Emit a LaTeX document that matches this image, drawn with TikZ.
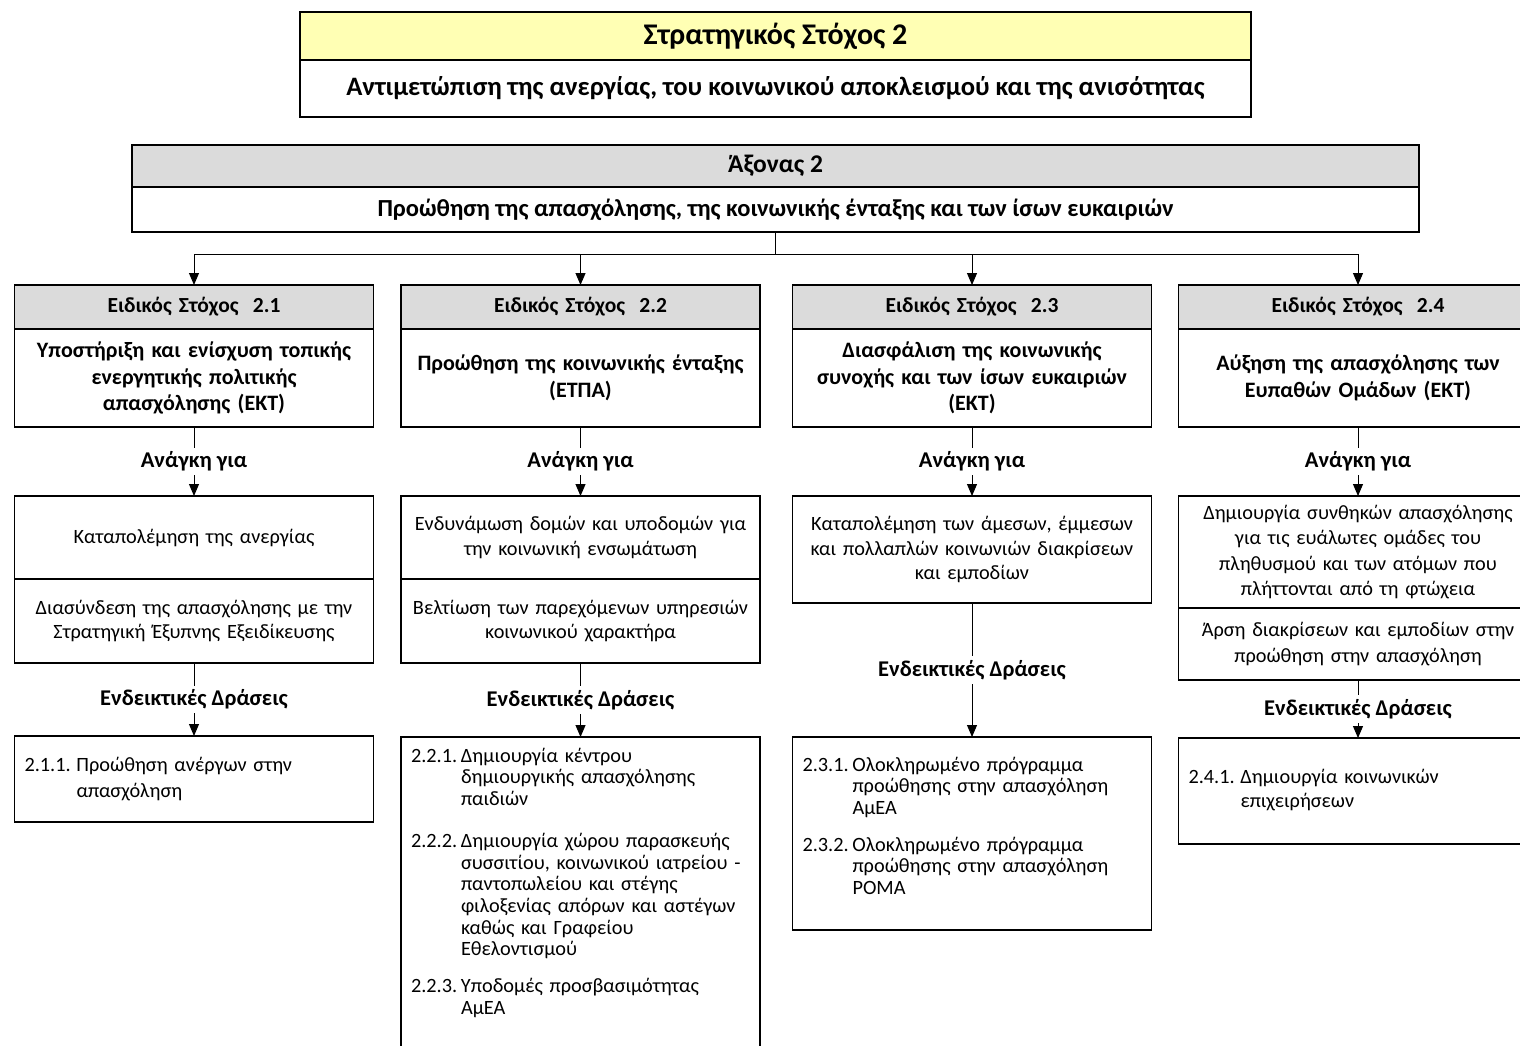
\documentclass[tikz,border=0pt]{standalone}
\usepackage{fontspec}
\setmainfont{Carlito}
\usepackage{tikz}
\usetikzlibrary{arrows.meta,positioning,calc}
\definecolor{goalyellow}{RGB}{255,255,180}
\definecolor{hdrgray}{RGB}{219,219,219}

\begin{document}
\begin{tikzpicture}
[x=1pt, y=-1pt, semithick,
box/.style={draw, line width=1.2pt, outer sep=0pt, align=center, inner xsep=4pt},
esbox/.style={box, minimum width=359pt, text width=351pt},
hdr/.style={esbox, fill=hdrgray, minimum height=44pt, font=\fontsize{21.5}{24}\selectfont\bfseries},
ttl/.style={esbox, minimum height=98pt, font=\fontsize{22}{26.8}\selectfont\bfseries},
need/.style={esbox, font=\fontsize{20.3}{24.5}\selectfont},
act/.style={esbox, align=left, inner xsep=10pt, text width=339pt, font=\fontsize{20.3}{21.7}\selectfont},
lbl/.style={fill=white, inner sep=4pt, font=\fontsize{22.5}{24}\selectfont\bfseries},
arr/.style={-{Triangle[length=12pt,width=10pt]}, line width=1pt}]

\useasboundingbox (0,0) rectangle (1520,1045);

\node (goal) at (775.5,12) [box, anchor=north, fill=goalyellow, line width=2pt, minimum width=951pt, minimum height=48pt, font=\fontsize{30}{32}\selectfont\bfseries] {Στρατηγικός Στόχος 2};
\node (goaltxt) [box, below=0pt of goal, line width=2pt, minimum width=951pt, minimum height=57pt, font=\fontsize{26.6}{30}\selectfont\bfseries] {Αντιμετώπιση της ανεργίας, του κοινωνικού αποκλεισμού και της ανισότητας};

\node (axis) at (775.5,145) [box, anchor=north, fill=hdrgray, minimum width=1287pt, minimum height=42pt, font=\fontsize{25.5}{28}\selectfont\bfseries] {Άξονας 2};
\node (axistxt) [box, below=0pt of axis, minimum width=1287pt, minimum height=45pt, font=\fontsize{24.5}{28}\selectfont\bfseries] {Προώθηση της απασχόλησης, της κοινωνικής ένταξης και των ίσων ευκαιριών};

\coordinate (bus) at (775.5,254);
\draw[line width=1pt] (axistxt) -- (bus);

\node (es1) at (194,285) [hdr, anchor=north] {Ειδικός Στόχος\ \ 2.1};
\node (es1txt) [ttl, below=0pt of es1] {Υποστήριξη και ενίσχυση τοπικής\\ενεργητικής πολιτικής\\απασχόλησης (ΕΚΤ)};
\node (nd1a) at (194,496) [need, anchor=north, minimum height=83pt] {Καταπολέμηση της ανεργίας};
\node (nd1b) [need, below=0pt of nd1a, minimum height=84pt] {Διασύνδεση της απασχόλησης με την\\Στρατηγική Έξυπνης Εξειδίκευσης};
\node (act1) at (194,736) [act, anchor=north, minimum height=86pt, font=\fontsize{20.3}{26.5}\selectfont] {\begin{tabular}{@{}p{52pt}@{}l@{}}
2.1.1. & Προώθηση ανέργων στην\\
 & απασχόληση
\end{tabular}};

\node (es2) at (580.5,285) [hdr, anchor=north] {Ειδικός Στόχος\ \ 2.2};
\node (es2txt) [ttl, below=0pt of es2] {Προώθηση της κοινωνικής ένταξης\\(ΕΤΠΑ)};
\node (nd2a) at (580.5,496) [need, anchor=north, minimum height=83pt] {Ενδυνάμωση δομών και υποδομών για\\την κοινωνική ενσωμάτωση};
\node (nd2b) [need, below=0pt of nd2a, minimum height=84pt] {Βελτίωση των παρεχόμενων υπηρεσιών\\κοινωνικού χαρακτήρα};
\node (act2) at (580.5,737) [act, anchor=north, inner ysep=10pt, text depth=330pt] {\begin{tabular}[t]{@{}p{50pt}@{}l@{}}
2.2.1. & Δημιουργία κέντρου\\
 & δημιουργικής απασχόλησης\\
 & παιδιών\\[20pt]
2.2.2. & Δημιουργία χώρου παρασκευής\\
 & συσσιτίου, κοινωνικού ιατρείου -\\
 & παντοπωλείου και στέγης\\
 & φιλοξενίας απόρων και αστέγων\\
 & καθώς και Γραφείου\\
 & Εθελοντισμού\\[15pt]
2.2.3. & Υποδομές προσβασιμότητας\\
 & ΑμΕΑ
\end{tabular}};

\node (es3) at (972,285) [hdr, anchor=north] {Ειδικός Στόχος\ \ 2.3};
\node (es3txt) [ttl, below=0pt of es3] {Διασφάλιση της κοινωνικής\\συνοχής και των ίσων ευκαιριών\\(ΕΚΤ)};
\node (nd3) at (972,496) [need, anchor=north, minimum height=107pt] {Καταπολέμηση των άμεσων, έμμεσων\\και πολλαπλών κοινωνιών διακρίσεων\\και εμποδίων};
\node (act3) at (972,737) [act, anchor=north, minimum height=193pt] {\begin{tabular}{@{}p{50pt}@{}l@{}}
2.3.1. & Ολοκληρωμένο πρόγραμμα\\
 & προώθησης στην απασχόληση\\
 & ΑμΕΑ\\[15pt]
2.3.2. & Ολοκληρωμένο πρόγραμμα\\
 & προώθησης στην απασχόληση\\
 & ΡΟΜΑ\\[10pt]
\end{tabular}};

\node (es4) at (1358,285) [hdr, anchor=north] {Ειδικός Στόχος\ \ 2.4};
\node (es4txt) [ttl, below=0pt of es4] {Αύξηση της απασχόλησης των\\Ευπαθών Ομάδων (ΕΚΤ)};
\node (nd4a) at (1358,496) [need, anchor=north, minimum height=112pt, font=\fontsize{20.3}{25.4}\selectfont] {Δημιουργία συνθηκών απασχόλησης\\για τις ευάλωτες ομάδες του\\πληθυσμού και των ατόμων που\\πλήττονται από τη φτώχεια};
\node (nd4b) [need, below=0pt of nd4a, minimum height=72pt, font=\fontsize{20.3}{25.4}\selectfont] {Άρση διακρίσεων και εμποδίων στην\\προώθηση στην απασχόληση};
\node (act4) at (1358,738) [act, anchor=north, minimum height=106pt, font=\fontsize{20.3}{24}\selectfont] {\begin{tabular}{@{}p{52pt}@{}l@{}}
2.4.1. & Δημιουργία κοινωνικών\\
 & επιχειρήσεων
\end{tabular}};

\draw[arr] (bus) -| (es1);
\draw[arr] (bus) -| (es2);
\draw[arr] (bus) -| (es3);
\draw[arr] (bus) -| (es4);

\draw[arr] (es1txt) -- node[lbl] (need1) {Ανάγκη για} (nd1a);
\draw[arr] (es2txt) -- node[lbl] (need2) {Ανάγκη για} (nd2a);
\draw[arr] (es3txt) -- node[lbl] (need3) {Ανάγκη για} (nd3);
\draw[arr] (es4txt) -- node[lbl] (need4) {Ανάγκη για} (nd4a);

\draw[arr] (nd1b) -- node[lbl] (acts1) {Ενδεικτικές Δράσεις} (act1);
\draw[arr] (nd2b) -- node[lbl] (acts2) {Ενδεικτικές Δράσεις} (act2);
\draw[arr] (nd3) -- node[lbl] (acts3) {Ενδεικτικές Δράσεις} (act3);
\draw[arr] (nd4b) -- node[lbl] (acts4) {Ενδεικτικές Δράσεις} (act4);

\end{tikzpicture}
\end{document}
